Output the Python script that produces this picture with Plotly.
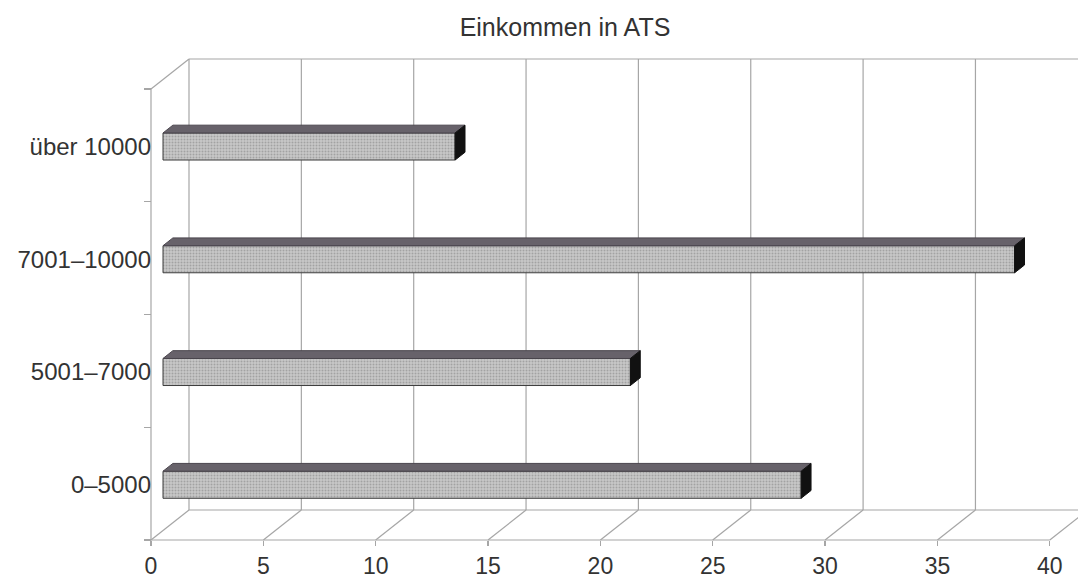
import plotly.graph_objects as go

# ---- data ----
categories = ["0–5000", "5001–7000", "7001–10000", "über 10000"]
shares = [28.4, 20.8, 37.9, 13.0]
x_ticks = [0, 5, 10, 15, 20, 25, 30, 35, 40]
title_text = "Einkommen in ATS"

# ---- geometry (oblique 3D projection) ----
W, H = 1078, 581
B = 30
PLOT_H = H - B
PX_X = 22.47          # px per value unit
PX_Y = 112.75         # px per category band
X0_PX, Y0_PX = 151, 540
DX = 38 / PX_X        # full depth offset (x units)
DY = 30 / PX_Y        # full depth offset (band units)
BAR_T = 0.316         # depth of bar front face
BAR_D = 0.26          # bar depth
BAR_W = 0.24          # bar thickness (band units)
BAR_OFF = 0.49        # bar centre within band

n = len(categories)
XMAX = x_ticks[-1]
x_range = [-X0_PX / PX_X, (W - X0_PX) / PX_X]
y_range = [-(PLOT_H - Y0_PX) / PX_Y, Y0_PX / PX_Y]


def P(x, y, t):
    return x + DX * t, y + DY * t


GRID = "#a6a6a6"
shapes = []


def seg(a, b, color=GRID, width=1.2):
    shapes.append(dict(type="line", xref="x", yref="y", x0=a[0], y0=a[1],
                       x1=b[0], y1=b[1], layer="below",
                       line=dict(color=color, width=width)))


# back wall verticals and floor diagonals
for v in x_ticks:
    seg(P(v, 0, 1), P(v, n, 1))
    seg(P(v, 0, 0), P(v, 0, 1))
# back wall top, floor back and front edges
seg(P(0, n, 1), P(XMAX + 2, n, 1))
seg(P(0, 0, 1), P(XMAX + 2, 0, 1))
seg(P(0, 0, 0), P(XMAX, 0, 0))
# left wall
seg(P(0, 0, 0), P(0, n, 0))
seg(P(0, n, 0), P(0, n, 1))

fig = go.Figure()

ycent = [i + BAR_OFF for i in range(n)]
base = DX * BAR_T

# front faces
fig.add_trace(go.Bar(
    y=ycent, x=shares, base=base, width=BAR_W, orientation="h",
    marker=dict(color="#c8c8c8",
                pattern=dict(shape=".", fgcolor="#7c7c7c", size=3, solidity=0.35),
                line=dict(color="#3c3c3c", width=1)),
    showlegend=False, hoverinfo="skip"))

# top and side faces
ddx, ddy = DX * BAR_D, DY * BAR_D
for yc, val in zip(ycent, shares):
    yt, yb = yc + BAR_W / 2, yc - BAR_W / 2
    xl, xr = base, base + val
    fig.add_trace(go.Scatter(
        x=[xl, xr, xr + ddx, xl + ddx, xl],
        y=[yt, yt, yt + ddy, yt + ddy, yt],
        fill="toself", fillcolor="#67626a", mode="lines",
        line=dict(color="#4a454d", width=1), showlegend=False, hoverinfo="skip"))
    fig.add_trace(go.Scatter(
        x=[xr, xr + ddx, xr + ddx, xr, xr],
        y=[yt, yt + ddy, yb + ddy, yb, yt],
        fill="toself", fillcolor="#111111", mode="lines",
        line=dict(color="#111111", width=1), showlegend=False, hoverinfo="skip"))

FONT = "Liberation Sans, Arial, sans-serif"
fig.update_layout(
    width=W, height=H,
    margin=dict(l=0, r=0, t=0, b=B),
    paper_bgcolor="white", plot_bgcolor="white",
    shapes=shapes,
    title=dict(text=title_text, x=565 / W, xanchor="center",
               y=1 - 27 / H, yanchor="middle",
               font=dict(family=FONT, size=25, color="#333333")),
    xaxis=dict(range=x_range, showgrid=False, zeroline=False, showline=False,
               anchor="free", position=(PLOT_H - Y0_PX) / PLOT_H,
               tickmode="array", tickvals=x_ticks,
               ticks="outside", ticklen=5, tickcolor=GRID, tickwidth=1.2,
               tickfont=dict(family=FONT, size=23, color="#333333")),
    yaxis=dict(range=y_range, showgrid=False, zeroline=False, showline=False,
               anchor="free", position=X0_PX / W,
               tickmode="array", tickvals=ycent, ticktext=categories,
               ticks="", ticklen=0,
               minor=dict(tickmode="array", tickvals=list(range(n + 1)),
                          ticks="outside", ticklen=7, tickcolor=GRID, tickwidth=1.2),
               tickfont=dict(family=FONT, size=24, color="#333333")),
)

fig.write_html("out.html",
               config={"displayModeBar": False, "staticPlot": True},
               post_script="document.body.style.margin='0';document.body.style.overflow='hidden';")
